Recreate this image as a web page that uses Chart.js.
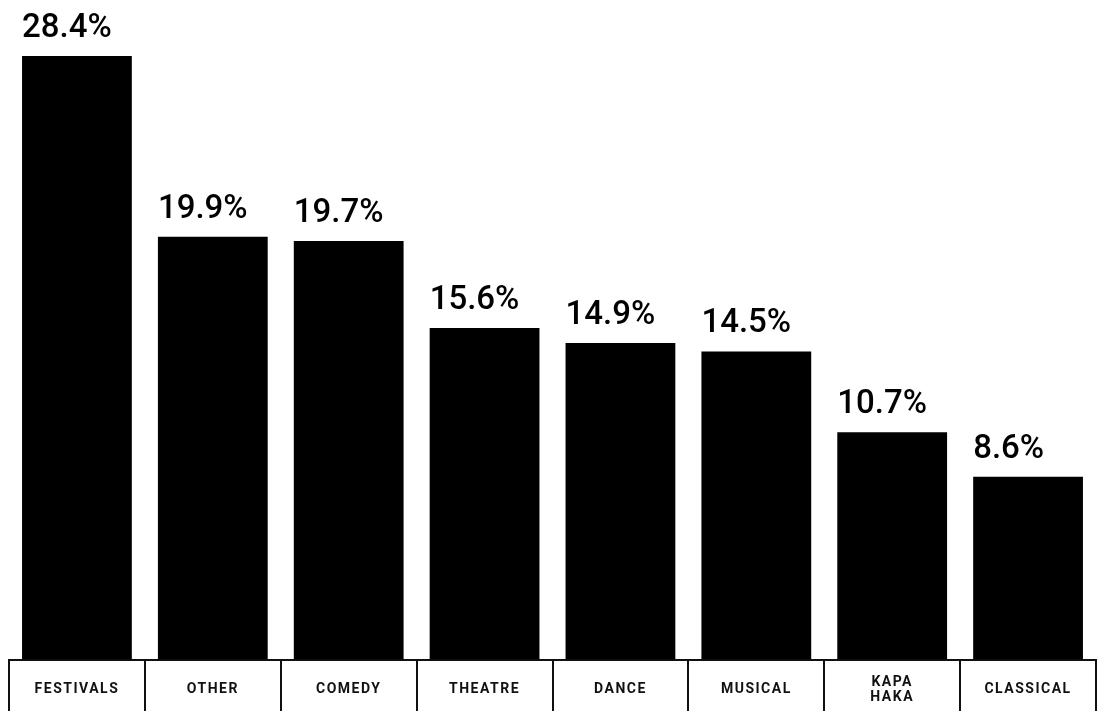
<!DOCTYPE html>
<html>
<head>
<meta charset="utf-8">
<script src="https://cdn.jsdelivr.net/npm/chart.js@4"></script>
<style>
  html, body { margin: 0; padding: 0; background: #fff; }
  #wrap { width: 1102px; height: 711px; }
</style>
</head>
<body>
<div id="wrap"><canvas id="genreChart"></canvas></div>
<script>
var genres = ["FESTIVALS", "OTHER", "COMEDY", "THEATRE", "DANCE", "MUSICAL", ["KAPA", "HAKA"], "CLASSICAL"];
var shares = [28.4, 19.9, 19.7, 15.6, 14.9, 14.5, 10.7, 8.6];
var shareLabels = ["28.4%", "19.9%", "19.7%", "15.6%", "14.9%", "14.5%", "10.7%", "8.6%"];

//percent above each bar, lined up with the bar's left edge
var valueLabels = {
    id: 'valueLabels',
    afterDatasetsDraw: function(chart){
        var ctx = chart.ctx;
        var bars = chart.getDatasetMeta(0).data;
        ctx.save();
        ctx.letterSpacing = '0px';
        ctx.font = '500 33px Roboto';
        ctx.fillStyle = '#000';
        ctx.textAlign = 'left';
        ctx.textBaseline = 'alphabetic';
        bars.forEach(function(bar, i){
            ctx.fillText(shareLabels[i], bar.x - bar.width / 2, bar.y - 19);
        });
        ctx.restore();
    }
};

// spaced out caps for the category boxes
var spacedTicks = {
    id: 'spacedTicks',
    beforeDraw: function(chart){
        chart.ctx.letterSpacing = '1.5px';
    }
};

// vertical dividers so each category label sits in its own box
var labelBoxes = {
    id: 'labelBoxes',
    afterDraw: function(chart){
        var x = chart.scales.x;
        var n = genres.length;
        var step = x.width / n;
        var ctx = chart.ctx;
        ctx.save();
        ctx.strokeStyle = '#111';
        ctx.lineWidth = 2;
        ctx.beginPath();
        for (var i = 0; i <= n; i++) {
            var px = Math.round(x.left + i * step);
            ctx.moveTo(px, x.top);
            ctx.lineTo(px, chart.height);
        }
        ctx.stroke();
        ctx.restore();
    }
};

var ctx = document.getElementById('genreChart');
var myChart = new Chart(ctx, {
    type: 'bar',
    data: {
        labels: genres,
        datasets: [{
            data: shares,
            backgroundColor: '#000',
            borderWidth: 0,
            barPercentage: 0.808,
            categoryPercentage: 1
        }]
    },
    options: {
        responsive: true,
        maintainAspectRatio: false,
        animation: false,
        layout: { padding: { top: 56, left: 9, right: 6, bottom: -24 } },
        plugins: {
            legend: { display: false },
            tooltip: { enabled: false }
        },
        scales: {
            y: {
                display: false,
                min: 0,
                max: 28.4
            },
            x: {
                grid: {
                    display: true,
                    drawOnChartArea: false,
                    drawTicks: false
                },
                border: { display: true, color: '#111', width: 2 },
                ticks: {
                    color: '#111',
                    padding: 23,
                    crossAlign: 'center',
                    maxRotation: 0,
                    autoSkip: false,
                    font: { family: 'Roboto', weight: 'bold', size: 14, lineHeight: 1.05 }
                }
            }
        }
    },
    plugins: [valueLabels, spacedTicks, labelBoxes]
});
</script>
</body>
</html>
